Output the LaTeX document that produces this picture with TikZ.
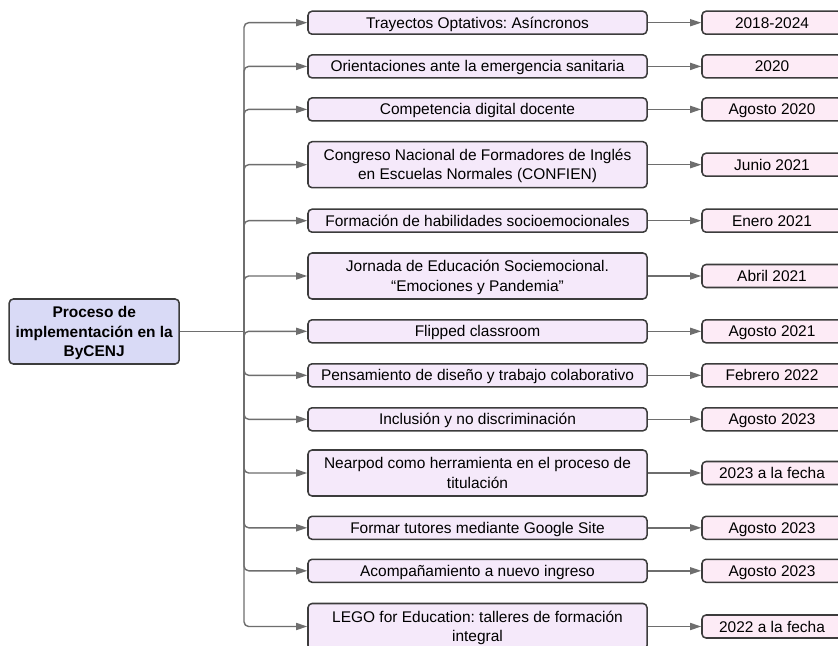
\documentclass[tikz,border=0pt]{standalone}
\usepackage{fontspec}
\setmainfont{Liberation Sans}
\frenchspacing
\usetikzlibrary{arrows.meta}
\definecolor{rootfill}{HTML}{D9DAF6}
\definecolor{stepfill}{HTML}{F5E9FA}
\definecolor{datefill}{HTML}{FDEBF6}
\definecolor{edgegray}{HTML}{3C3C3C}
\definecolor{wiregray}{HTML}{6E6E6E}
\newcommand{\twolines}[2]{\begin{tabular}{@{}c@{}}\rule{0pt}{14.4pt}#1\\#2\end{tabular}}
\tikzset{
  rootbox/.style={draw=edgegray, fill=rootfill, line width=1.3pt, rounded corners=3.5pt, minimum width=5.1cm, minimum height=1.95cm, inner sep=0pt, font=\fontsize{13.2}{17}\selectfont\bfseries},
  stepbox/.style={draw=edgegray, fill=stepfill, line width=1.3pt, rounded corners=3.5pt, minimum width=10.17cm, minimum height=0.69cm, inner sep=0pt, text height=9.45pt, text depth=0pt, font=\fontsize{13.2}{16.5}\selectfont},
  tallbox/.style={stepbox, minimum height=1.38cm, text height=, text depth=},
  datebox/.style={stepbox, fill=datefill, minimum width=4.2cm},
  trunk/.style={draw=wiregray, line width=1.2pt},
  link/.style={trunk, rounded corners=4pt, -{Triangle[length=0.33cm,width=0.21cm]}},
}

\begin{document}
\begin{tikzpicture}[x=0.03cm, y=-0.03cm]
\useasboundingbox[fill=white] (0,0) rectangle (838,646);
\node[rootbox] (root) at (94.2,331.5) {\begin{tabular}{@{}c@{}}\rule{0pt}{14.55pt}Proceso de\\implementación en la\\ByCENJ\end{tabular}};
\node[stepbox] (s1) at (477.5,22.7) {Trayectos Optativos: Asíncronos};
\node[stepbox] (s2) at (477.5,66.4) {Orientaciones ante la emergencia sanitaria};
\node[stepbox] (s3) at (477.5,109.4) {Competencia digital docente};
\node[tallbox] (s4) at (477.5,164.7) {\twolines{Congreso Nacional de Formadores de Inglés}{en Escuelas Normales (CONFIEN)}};
\node[stepbox] (s5) at (477.5,220.7) {Formación de habilidades socioemocionales};
\node[tallbox] (s6) at (477.5,276) {\twolines{Jornada de Educación Sociemocional.}{“Emociones y Pandemia"}};
\node[stepbox] (s7) at (477.5,331.3) {Flipped classroom};
\node[stepbox] (s8) at (477.5,375.3) {Pensamiento de diseño y trabajo colaborativo};
\node[stepbox] (s9) at (477.5,419.3) {Inclusión y no discriminación};
\node[tallbox] (s10) at (477.5,473) {\twolines{Nearpod como herramienta en el proceso de}{titulación}};
\node[stepbox] (s11) at (477.5,527.8) {Formar tutores mediante Google Site};
\node[stepbox] (s12) at (477.5,570.8) {Acompañamiento a nuevo ingreso};
\node[tallbox] (s13) at (477.5,626.5) {\twolines{LEGO for Education: talleres de formación}{integral}};
\node[datebox] (d1) at (772,22.7) {2018-2024};
\node[datebox] (d2) at (772,66.4) {2020};
\node[datebox] (d3) at (772,109.4) {Agosto 2020};
\node[datebox] (d4) at (772,164.7) {Junio 2021};
\node[datebox] (d5) at (772,220.7) {Enero 2021};
\node[datebox] (d6) at (772,276) {Abril 2021};
\node[datebox] (d7) at (772,331.3) {Agosto 2021};
\node[datebox] (d8) at (772,375.3) {Febrero 2022};
\node[datebox] (d9) at (772,419.3) {Agosto 2023};
\node[datebox] (d10) at (772,473) {2023 a la fecha};
\node[datebox] (d11) at (772,527.8) {Agosto 2023};
\node[datebox] (d12) at (772,570.8) {Agosto 2023};
\node[datebox] (d13) at (772,626.5) {2022 a la fecha};
\coordinate (hub) at (244,331.5);
\draw[trunk] (root.east) -- (hub);
\draw[link] (hub) |- (s1.west);
\draw[link] (hub) |- (s2.west);
\draw[link] (hub) |- (s3.west);
\draw[link] (hub) |- (s4.west);
\draw[link] (hub) |- (s5.west);
\draw[link] (hub) |- (s6.west);
\draw[link] (hub) |- (s7.west);
\draw[link] (hub) |- (s8.west);
\draw[link] (hub) |- (s9.west);
\draw[link] (hub) |- (s10.west);
\draw[link] (hub) |- (s11.west);
\draw[link] (hub) |- (s12.west);
\draw[link] (hub) |- (s13.west);
\draw[link] (s1) -- (d1);
\draw[link] (s2) -- (d2);
\draw[link] (s3) -- (d3);
\draw[link] (s4) -- (d4);
\draw[link] (s5) -- (d5);
\draw[link] (s6) -- (d6);
\draw[link] (s7) -- (d7);
\draw[link] (s8) -- (d8);
\draw[link] (s9) -- (d9);
\draw[link] (s10) -- (d10);
\draw[link] (s11) -- (d11);
\draw[link] (s12) -- (d12);
\draw[link] (s13) -- (d13);
\end{tikzpicture}
\end{document}
